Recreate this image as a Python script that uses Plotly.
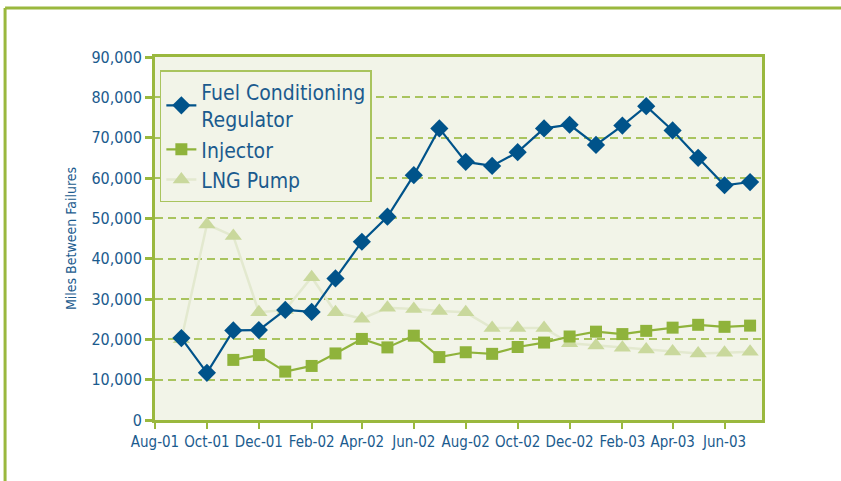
import plotly.graph_objects as go

# monthly data points, Sep-01 .. Jul-03
months = ["2001-09-01", "2001-10-01", "2001-11-01", "2001-12-01",
          "2002-01-01", "2002-02-01", "2002-03-01", "2002-04-01",
          "2002-05-01", "2002-06-01", "2002-07-01", "2002-08-01",
          "2002-09-01", "2002-10-01", "2002-11-01", "2002-12-01",
          "2003-01-01", "2003-02-01", "2003-03-01", "2003-04-01",
          "2003-05-01", "2003-06-01", "2003-07-01"]

regulator = [20300, 11700, 22200, 22300, 27300, 26800, 35100, 44200,
             50400, 60700, 72300, 64000, 63000, 66400, 72300, 73200,
             68200, 73000, 77800, 71800, 65000, 58200, 59000]

injector = [None, None, 14900, 16100, 12000, 13400, 16500, 20100,
            18000, 20900, 15600, 16800, 16400, 18100, 19200, 20700,
            21900, 21300, 22100, 22900, 23600, 23100, 23400]

lng_pump = [20000, 48500, 45600, 26700, 27300, 35400, 26700, 25100,
            27800, 27500, 27000, 26700, 22800, 22800, 22800, 19000,
            18500, 17900, 17500, 17000, 16500, 16700, 16900]

names = ["Fuel Conditioning<br>Regulator", "Injector", "LNG Pump"]

BLUE = "#00538a"
TEXT = "#1b5b8e"
GREEN = "#8fb33b"
PALE = "#c9d89c"
FRAME = "#9ab83e"
BG = "#f2f4e8"
FONT = "Liberation Sans Narrow, DejaVu Sans Condensed, Arial Narrow, sans-serif"

fig = go.Figure()

# LNG Pump (pale, drawn first so it sits behind)
fig.add_trace(go.Scatter(
    x=months, y=lng_pump, name=names[2], mode="lines+markers",
    line=dict(color="#e3e9cf", width=2.5),
    marker=dict(symbol="triangle-up", size=15, color=PALE),
))
fig.add_trace(go.Scatter(
    x=months, y=injector, name=names[1], mode="lines+markers",
    line=dict(color=GREEN, width=2.2),
    marker=dict(symbol="square", size=12, color=GREEN),
))
fig.add_trace(go.Scatter(
    x=months, y=regulator, name=names[0], mode="lines+markers",
    line=dict(color=BLUE, width=2.2),
    marker=dict(symbol="diamond", size=14, color=BLUE),
))

# outer green frame (cut off at the right and bottom)
fig.add_shape(type="line", xref="paper", yref="paper",
              x0=-0.247, x1=1.2, y0=1.135, y1=1.135,
              line=dict(color=FRAME, width=3))
fig.add_shape(type="line", xref="paper", yref="paper",
              x0=-0.247, x1=-0.247, y0=1.135, y1=-0.2,
              line=dict(color=FRAME, width=3))

fig.update_layout(
    width=841, height=481,
    margin=dict(l=155, r=79, t=57, b=61),
    paper_bgcolor="white",
    plot_bgcolor=BG,
    font=dict(family=FONT, color=TEXT, size=16),
    legend=dict(
        x=0.008, y=0.964, xanchor="left", yanchor="top",
        bgcolor=BG, bordercolor="#a9c45e", borderwidth=1.5,
        font=dict(size=21, color=TEXT),
        traceorder="reversed",
    ),
    showlegend=True,
)

fig.update_xaxes(
    type="date",
    range=["2001-08-01", "2003-07-15"],
    tick0="2001-08-01", dtick="M2", tickformat="%b-%y",
    tickangle=0,
    showgrid=False,
    showline=True, linecolor=FRAME, linewidth=3, mirror=True,
    ticks="outside", ticklen=6, tickwidth=2, tickcolor=FRAME,
    tickfont=dict(size=15, color=TEXT),
)
fig.update_yaxes(
    range=[0, 90000], dtick=10000, tickformat=",d",
    showgrid=True, gridcolor="#a9c45e", gridwidth=1.5, griddash="8px,5px",
    zeroline=False,
    showline=True, linecolor=FRAME, linewidth=3, mirror=True,
    ticks="outside", ticklen=7, tickwidth=2.5, tickcolor=FRAME,
    tickfont=dict(size=16, color=TEXT),
    title=dict(text="Miles Between Failures", font=dict(size=14, color=TEXT), standoff=12),
)

# drop the page's default body margin so the figure sits at the window corner
fig.write_html("out.html", config={"displayModeBar": False},
               post_script="document.body.style.margin='0';")
